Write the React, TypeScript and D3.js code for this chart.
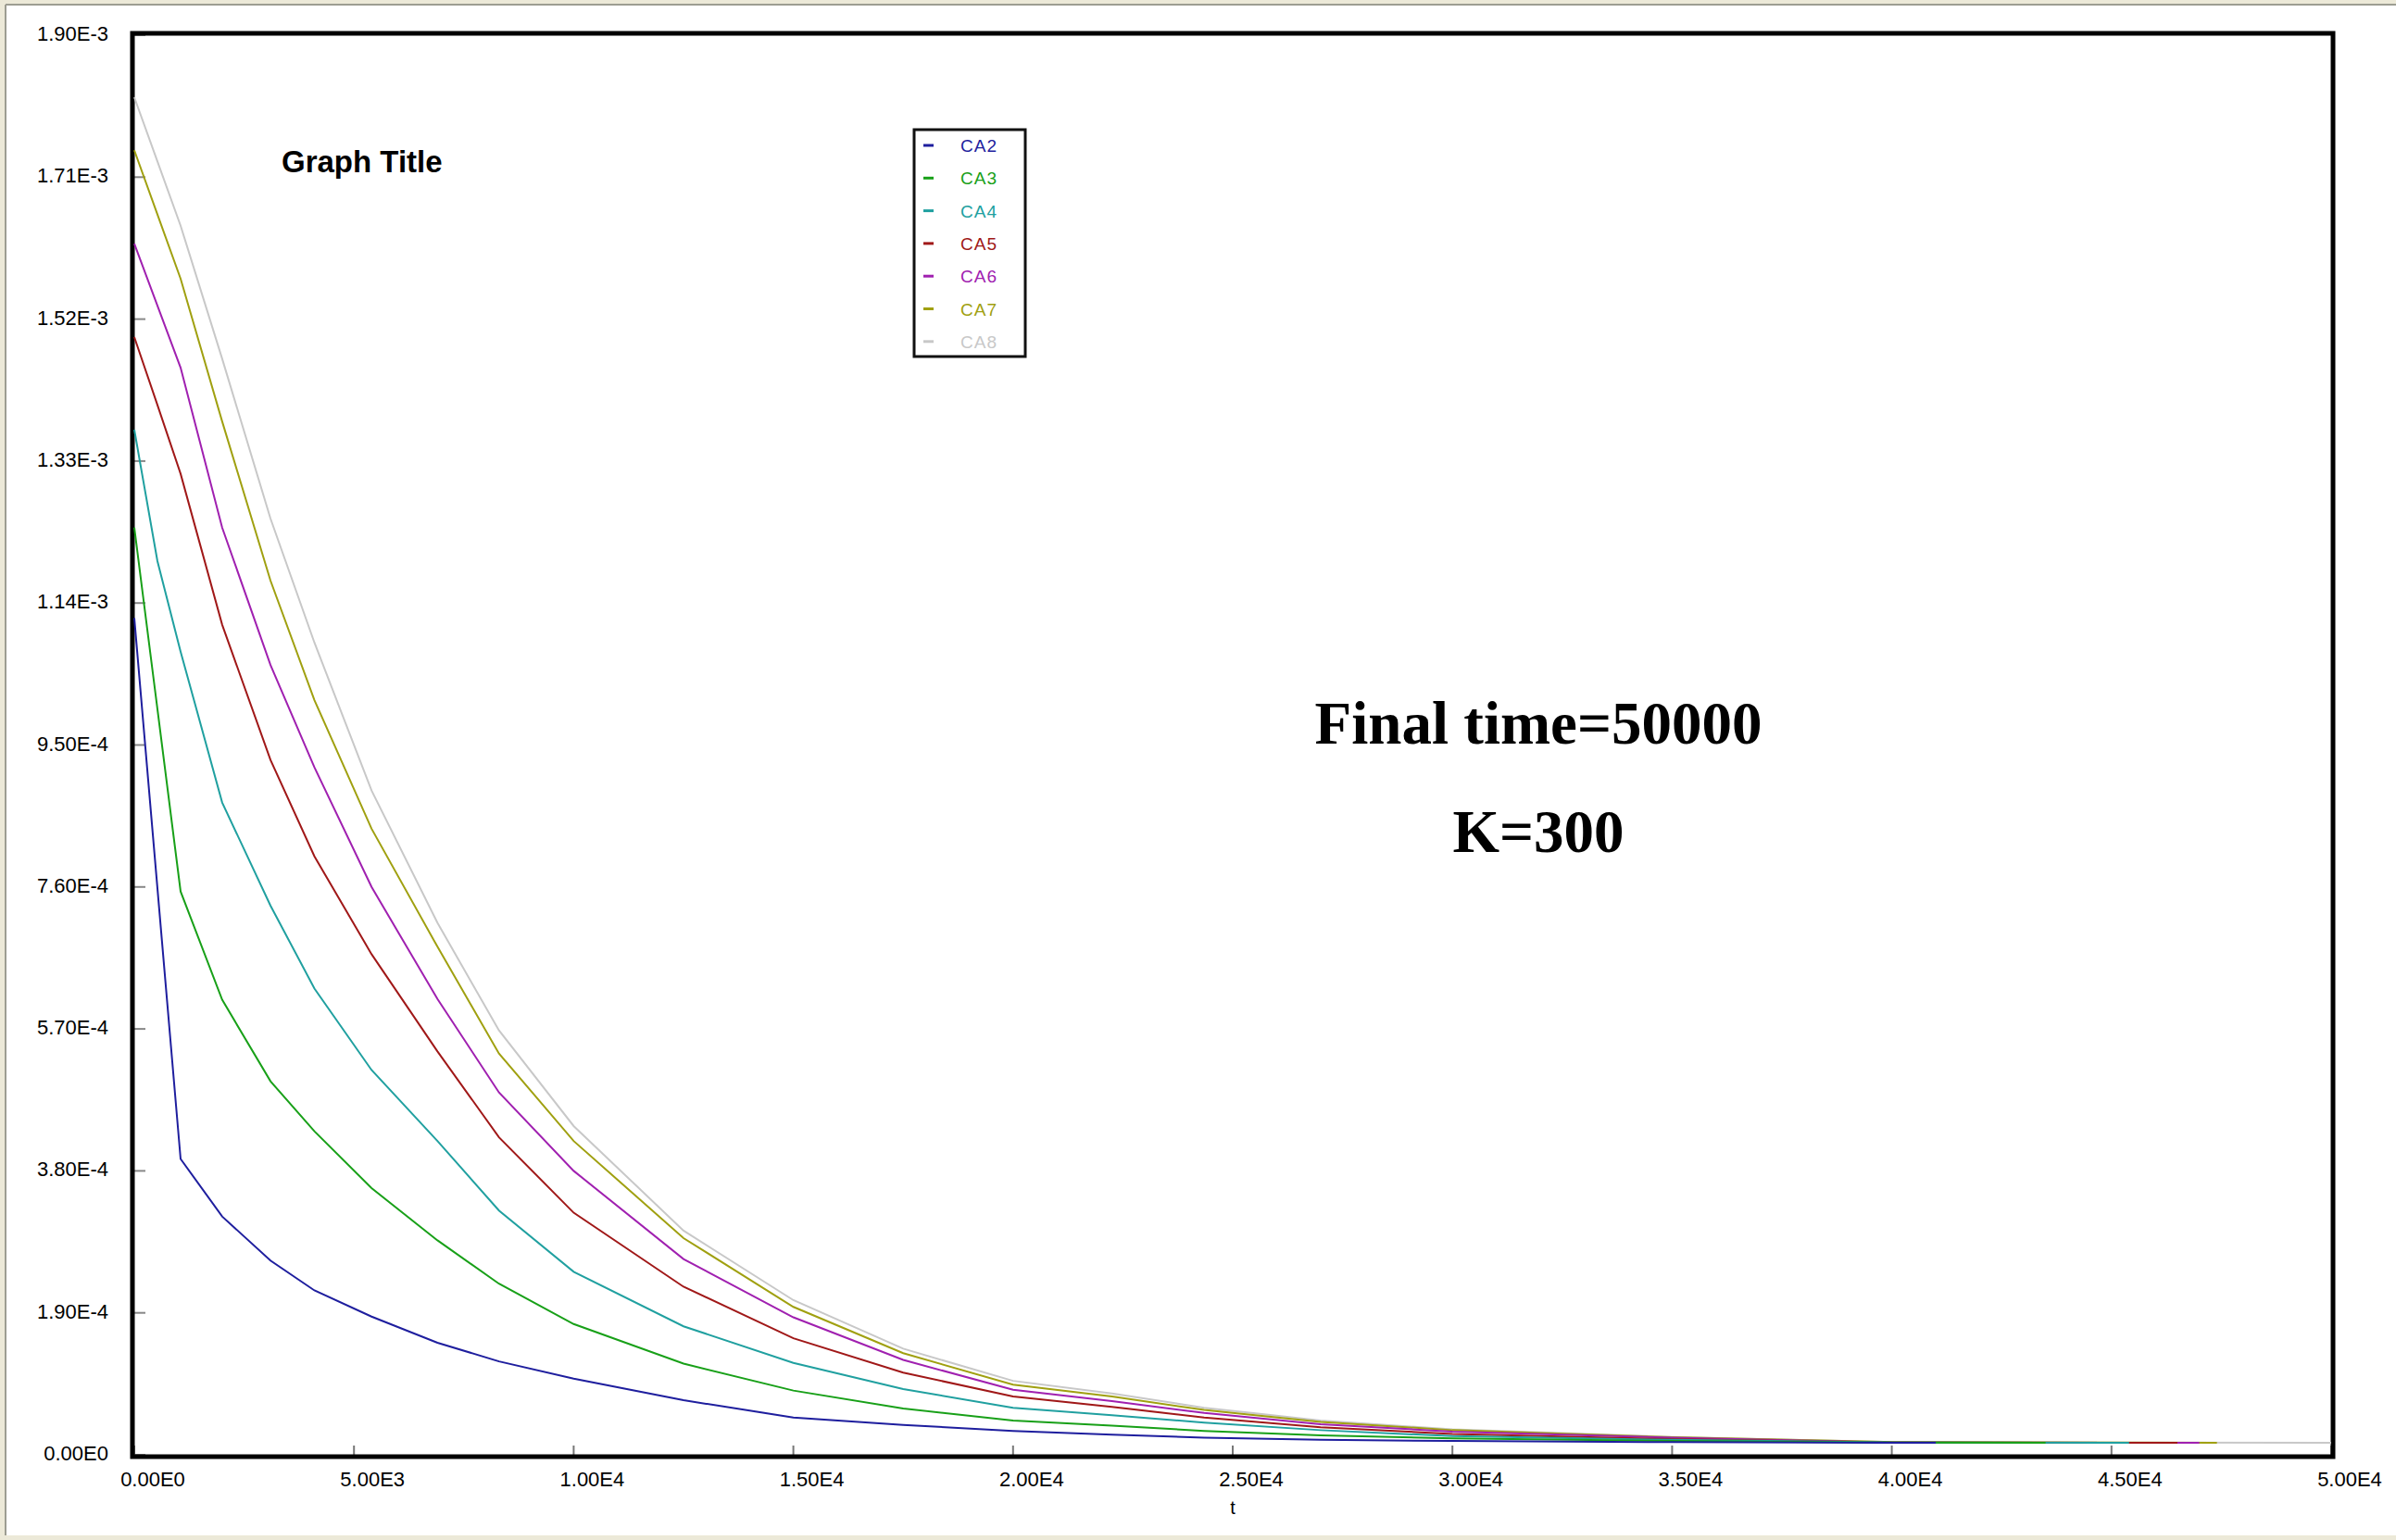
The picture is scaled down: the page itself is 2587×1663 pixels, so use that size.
import * as d3 from "d3";

// time samples shared by all series
const times = [0, 527, 1054, 2000, 3100, 4100, 5400, 6900, 8300, 10000, 12500, 15000, 17500, 20000, 22250, 24350, 27000, 30000, 35000, 40000];

const ca2 = [1.12e-3, 7.58e-4, 3.96e-4, 3.19e-4, 2.6e-4, 2.2e-4, 1.85e-4, 1.5e-4, 1.25e-4, 1.02e-4, 7.3e-5, 5.0e-5, 4.0e-5, 3.2e-5, 2.7e-5, 2.3e-5, 2.0e-5, 1.85e-5, 1.7e-5, 1.6e-5];
const ca3 = [1.241e-3, 9.98e-4, 7.54e-4, 6.09e-4, 5.0e-4, 4.33e-4, 3.57e-4, 2.87e-4, 2.29e-4, 1.75e-4, 1.22e-4, 8.6e-5, 6.2e-5, 4.6e-5, 3.9e-5, 3.2e-5, 2.6e-5, 2.2e-5, 1.85e-5, 1.65e-5];
const ca4 = [1.372e-3, 1.196e-3, 1.075e-3, 8.73e-4, 7.35e-4, 6.24e-4, 5.15e-4, 4.2e-4, 3.27e-4, 2.45e-4, 1.72e-4, 1.23e-4, 8.8e-5, 6.3e-5, 5.3e-5, 4.3e-5, 3.3e-5, 2.5e-5, 2.0e-5, 1.65e-5];
const ca5 = [1.496e-3, 1.405e-3, 1.313e-3, 1.111e-3, 9.3e-4, 8.01e-4, 6.7e-4, 5.4e-4, 4.25e-4, 3.24e-4, 2.25e-4, 1.56e-4, 1.1e-4, 7.8e-5, 6.4e-5, 5.0e-5, 3.7e-5, 2.8e-5, 2.1e-5, 1.65e-5];
const ca6 = [1.621e-3, 1.538e-3, 1.455e-3, 1.241e-3, 1.057e-3, 9.2e-4, 7.6e-4, 6.1e-4, 4.85e-4, 3.8e-4, 2.62e-4, 1.84e-4, 1.27e-4, 8.7e-5, 7.2e-5, 5.6e-5, 4.1e-5, 3.1e-5, 2.3e-5, 1.65e-5];
const ca7 = [1.746e-3, 1.66e-3, 1.574e-3, 1.383e-3, 1.17e-3, 1.01e-3, 8.38e-4, 6.8e-4, 5.37e-4, 4.2e-4, 2.9e-4, 1.98e-4, 1.36e-4, 9.4e-5, 7.8e-5, 6.0e-5, 4.4e-5, 3.3e-5, 2.35e-5, 1.7e-5];
const ca8 = [1.817e-3, 1.731e-3, 1.645e-3, 1.467e-3, 1.253e-3, 1.087e-3, 8.89e-4, 7.12e-4, 5.68e-4, 4.4e-4, 3.0e-4, 2.07e-4, 1.42e-4, 9.9e-5, 8.2e-5, 6.3e-5, 4.6e-5, 3.4e-5, 2.4e-5, 1.7e-5];

// each series stops at its own last time
const endTimes = [41000, 43500, 45400, 46500, 47000, 47400, 50000];
const endValues = [1.6e-5, 1.6e-5, 1.6e-5, 1.6e-5, 1.6e-5, 1.6e-5, 1.6e-5];

const seriesNames = ["CA2", "CA3", "CA4", "CA5", "CA6", "CA7", "CA8"];
const seriesValues = [ca2, ca3, ca4, ca5, ca6, ca7, ca8];
const seriesColors = ["#1e1e9e", "#18a018", "#20a0a0", "#a01818", "#a020b0", "#a0a010", "#c8c8c8"];

const yTicks = [0, 1.9e-4, 3.8e-4, 5.7e-4, 7.6e-4, 9.5e-4, 1.14e-3, 1.33e-3, 1.52e-3, 1.71e-3, 1.9e-3];
const yTickLabels = ["0.00E0", "1.90E-4", "3.80E-4", "5.70E-4", "7.60E-4", "9.50E-4", "1.14E-3", "1.33E-3", "1.52E-3", "1.71E-3", "1.90E-3"];
const xTicks = [0, 5000, 10000, 15000, 20000, 25000, 30000, 35000, 40000, 45000, 50000];
const xTickLabels = ["0.00E0", "5.00E3", "1.00E4", "1.50E4", "2.00E4", "2.50E4", "3.00E4", "3.50E4", "4.00E4", "4.50E4", "5.00E4"];

const W = 2587;
const H = 1663;
const left = 145;
const right = 2517;
const top = 38;
const bottom = 1571;

const sans = "'Liberation Sans', Arial, sans-serif";
const serif = "'Liberation Serif', 'Times New Roman', serif";

export default function App() {
  const x = d3.scaleLinear().domain([0, 50000]).range([left, right]);
  const y = d3.scaleLinear().domain([0, 1.9e-3]).range([bottom, top]);

  const line = d3
    .line<[number, number]>()
    .x((d) => x(d[0]))
    .y((d) => y(d[1]));

  const paths = seriesValues.map((vals, i) => {
    const pts: [number, number][] = times.map((t, j) => [t, vals[j]]);
    pts.push([endTimes[i], endValues[i]]);
    return line(pts) || "";
  });

  // draw CA8 first so CA2 ends up on top, like the original
  const order = d3.range(seriesNames.length).reverse();

  return (
    <svg
      width={W}
      height={H}
      style={{ position: "absolute", left: 0, top: 0, background: "#fff" }}
    >
      {/* window-ish border */}
      <rect x={0} y={0} width={W} height={H} fill="#ece9d8" />
      <rect x={6} y={5} width={W - 6} height={H - 10} fill="#fff" />
      <line x1={6} y1={5} x2={W} y2={5} stroke="#9d9d92" strokeWidth={2} />
      <line x1={6} y1={5} x2={6} y2={H - 5} stroke="#9d9d92" strokeWidth={2} />

      {/* y ticks and labels */}
      {yTicks.map((v, i) => (
        <g key={"y" + i}>
          <line x1={left} x2={left + 12} y1={y(v)} y2={y(v)} stroke="#888" strokeWidth={2} />
          <text
            x={117}
            y={y(v) + 6}
            textAnchor="end"
            fontFamily={sans}
            fontSize={22}
            fill="#000"
          >
            {yTickLabels[i]}
          </text>
        </g>
      ))}

      {/* x ticks and labels */}
      {xTicks.map((v, i) => (
        <g key={"x" + i}>
          <line x1={x(v)} x2={x(v)} y1={bottom} y2={bottom - 10} stroke="#777" strokeWidth={2} />
          <text
            x={x(v) + 20}
            y={1605}
            textAnchor="middle"
            fontFamily={sans}
            fontSize={22}
            fill="#000"
          >
            {xTickLabels[i]}
          </text>
        </g>
      ))}
      <text x={(left + right) / 2} y={1635} textAnchor="middle" fontFamily={sans} fontSize={20}>
        t
      </text>

      {/* plot frame */}
      <rect
        x={left - 2}
        y={top - 2}
        width={right - left + 4}
        height={bottom - top + 4}
        fill="none"
        stroke="#000"
        strokeWidth={5}
      />

      {/* series */}
      {order.map((i) => (
        <path key={seriesNames[i]} d={paths[i]} fill="none" stroke={seriesColors[i]} strokeWidth={2} />
      ))}

      {/* title */}
      <text x={304} y={186} fontFamily={sans} fontWeight="bold" fontSize={33} fill="#000">
        Graph Title
      </text>

      {/* legend */}
      <rect x={987} y={140} width={120} height={245} fill="#fff" stroke="#111" strokeWidth={3} />
      {seriesNames.map((name, i) => {
        const ly = 157 + i * 35.3;
        return (
          <g key={"lg" + name}>
            <line x1={997} x2={1008} y1={ly} y2={ly} stroke={seriesColors[i]} strokeWidth={3} />
            <text
              x={1037}
              y={ly + 7}
              fontFamily={sans}
              fontSize={19}
              letterSpacing={1}
              fill={seriesColors[i]}
            >
              {name}
            </text>
          </g>
        );
      })}

      {/* annotations */}
      <text x={1661} y={803} textAnchor="middle" fontFamily={serif} fontWeight="bold" fontSize={65}>
        Final time=50000
      </text>
      <text x={1661} y={920} textAnchor="middle" fontFamily={serif} fontWeight="bold" fontSize={65}>
        K=300
      </text>
    </svg>
  );
}
